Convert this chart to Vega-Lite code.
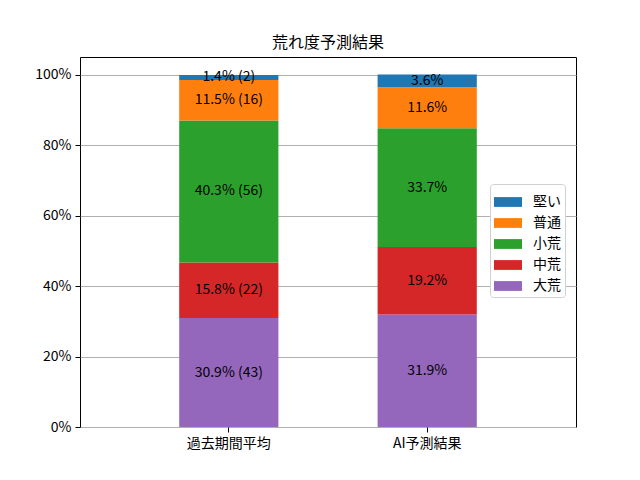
{
  "$schema": "https://vega.github.io/schema/vega-lite/v6.json",
  "autosize": {"type": "none"},
  "padding": {"left": 80, "top": 57, "right": 64, "bottom": 53},
  "width": 496,
  "height": 370,
  "title": {
    "text": "荒れ度予測結果",
    "font": "Noto Sans CJK JP",
    "fontSize": 16,
    "fontWeight": "normal",
    "color": "black",
    "offset": 6
  },
  "data": {
    "values": [
      {"period": "過去期間平均", "cat": "大荒", "rank": 1, "pct": 30.9, "label": "30.9% (43)"},
      {"period": "過去期間平均", "cat": "中荒", "rank": 2, "pct": 15.8, "label": "15.8% (22)"},
      {"period": "過去期間平均", "cat": "小荒", "rank": 3, "pct": 40.3, "label": "40.3% (56)"},
      {"period": "過去期間平均", "cat": "普通", "rank": 4, "pct": 11.5, "label": "11.5% (16)"},
      {"period": "過去期間平均", "cat": "堅い", "rank": 5, "pct": 1.4, "label": "1.4% (2)"},
      {"period": "AI予測結果", "cat": "大荒", "rank": 1, "pct": 31.9, "label": "31.9%"},
      {"period": "AI予測結果", "cat": "中荒", "rank": 2, "pct": 19.2, "label": "19.2%"},
      {"period": "AI予測結果", "cat": "小荒", "rank": 3, "pct": 33.7, "label": "33.7%"},
      {"period": "AI予測結果", "cat": "普通", "rank": 4, "pct": 11.6, "label": "11.6%"},
      {"period": "AI予測結果", "cat": "堅い", "rank": 5, "pct": 3.6, "label": "3.6%"}
    ]
  },
  "encoding": {
    "x": {
      "field": "period",
      "type": "nominal",
      "sort": ["過去期間平均", "AI予測結果"],
      "scale": {"paddingInner": 0.5, "paddingOuter": 0.5},
      "axis": {"title": null, "labelAngle": 0, "labelFontSize": 14, "labelPadding": 4}
    },
    "y": {
      "field": "pct",
      "type": "quantitative",
      "stack": "zero",
      "scale": {"domain": [0, 105], "nice": false},
      "axis": {
        "title": null,
        "values": [0, 20, 40, 60, 80, 100],
        "labelExpr": "datum.value + '%'",
        "labelFontSize": 14,
        "labelPadding": 4,
        "grid": true,
        "gridColor": "#b0b0b0",
        "gridWidth": 1
      }
    },
    "order": {"field": "rank", "type": "quantitative", "sort": "ascending"}
  },
  "layer": [
    {
      "mark": {"type": "bar"},
      "encoding": {
        "color": {
          "field": "cat",
          "type": "nominal",
          "sort": ["大荒", "中荒", "小荒", "普通", "堅い"],
          "scale": {"range": ["#9467bd", "#d62728", "#2ca02c", "#ff7f0e", "#1f77b4"]},
          "legend": {
            "title": null,
            "values": ["堅い", "普通", "小荒", "中荒", "大荒"],
            "orient": "none",
            "legendX": 410,
            "legendY": 127
          }
        }
      }
    },
    {
      "mark": {"type": "text", "fontSize": 14, "font": "Noto Sans CJK JP", "baseline": "middle", "align": "center", "color": "black"},
      "encoding": {
        "y": {"field": "pct", "type": "quantitative", "stack": "zero", "bandPosition": 0.5},
        "text": {"field": "label"},
        "detail": {"field": "cat", "type": "nominal"}
      }
    }
  ],
  "config": {
    "font": "Noto Sans CJK JP",
    "view": {"stroke": "black", "strokeWidth": 1},
    "axis": {
      "labelColor": "black",
      "labelFont": "Noto Sans CJK JP",
      "tickColor": "black",
      "tickSize": 5,
      "domain": false
    },
    "legend": {
      "labelFontSize": 14,
      "labelFont": "Noto Sans CJK JP",
      "labelColor": "black",
      "symbolType": "M-1,-0.35L1,-0.35L1,0.35L-1,0.35Z",
      "symbolSize": 784,
      "symbolStrokeWidth": 0,
      "symbolOpacity": 1,
      "labelOffset": 11,
      "rowPadding": 0,
      "padding": 4,
      "strokeColor": "#d0d0d0",
      "fillColor": "white",
      "cornerRadius": 3
    }
  }
}
